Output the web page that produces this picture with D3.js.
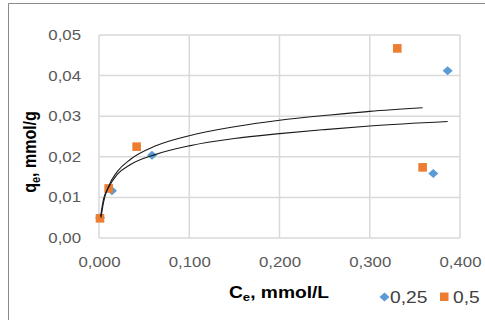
<!DOCTYPE html>
<html>
<head>
<meta charset="utf-8">
<script src="https://cdn.jsdelivr.net/npm/d3@7"></script>
<style>
  html, body { margin: 0; padding: 0; background: #fff; }
  svg { display: block; }
  text { font-family: "Liberation Sans", Arial, sans-serif; }
</style>
</head>
<body>
<svg id="chart" width="485" height="320"></svg>
<script>
// ---- data ----
const seriesNames = ["0,25", "0,5"];
// series 0,25 (blue diamonds)
const blueX = [0.0012, 0.0144, 0.0587, 0.3704, 0.3863];
const blueY = [0.0050, 0.01165, 0.0204, 0.0159, 0.0412];
// series 0,5 (orange squares)
const orangeX = [0.0011, 0.0107, 0.0417, 0.3305, 0.3586];
const orangeY = [0.00485, 0.0122, 0.0225, 0.0467, 0.0174];
// trend line for 0,25
const blueTrendX = [0.0018, 0.005, 0.010, 0.020, 0.035, 0.063, 0.100, 0.150, 0.200, 0.250, 0.300, 0.3863];
const blueTrendY = [0.0053, 0.0096, 0.0122, 0.0156, 0.0181, 0.0206, 0.0227, 0.0245, 0.0257, 0.0267, 0.0276, 0.0287];
// trend line for 0,5
const orangeTrendX = [0.0022, 0.005, 0.010, 0.020, 0.035, 0.063, 0.100, 0.150, 0.200, 0.256, 0.300, 0.3586];
const orangeTrendY = [0.0050, 0.0088, 0.0124, 0.0163, 0.0194, 0.0227, 0.0252, 0.0274, 0.0290, 0.0303, 0.0312, 0.0321];
// ticks
const xTicks = [0, 0.1, 0.2, 0.3, 0.4];
const yTicks = [0, 0.01, 0.02, 0.03, 0.04, 0.05];

const colors = { blue: "#5B9BD5", orange: "#ED7D31" };

// ---- drawing ----
const svg = d3.select("#chart");
const locale = d3.formatLocale({ decimal: ",", thousands: ".", grouping: [3], currency: ["", ""] });
const fx = locale.format(".3f"), fy = locale.format(".2f");
const SX = 1.2; // horizontal stretch of the reference text

const x = d3.scaleLinear().domain([0, 0.4]).range([99, 460]);
const y = d3.scaleLinear().domain([0, 0.05]).range([238, 35]);

function stretch(sel) {
  sel.each(function () {
    const t = d3.select(this);
    const tx = +t.attr("x") || 0;
    const ty = +t.attr("y") || 0;
    t.attr("transform", `translate(${tx},${ty}) scale(${SX},1) translate(${-tx},${-ty})`);
  });
}

// outer frame
svg.append("path").attr("d", "M8.5,320 L8.5,3.5 L485,3.5")
  .attr("fill", "none").attr("stroke", "#8a8a8a").attr("stroke-width", 1);

// gridlines
svg.append("g").selectAll("line").data(yTicks).join("line")
  .attr("x1", x(0)).attr("x2", x(0.4))
  .attr("y1", d => y(d)).attr("y2", d => y(d))
  .attr("stroke", "#d9d9d9").attr("stroke-width", 1.5);
svg.append("g").selectAll("line").data(xTicks).join("line")
  .attr("y1", y(0)).attr("y2", y(0.05))
  .attr("x1", d => x(d)).attr("x2", d => x(d))
  .attr("stroke", "#d9d9d9").attr("stroke-width", 1.5);

// axes (labels only)
const gy = svg.append("g").attr("transform", `translate(${x(0)},0)`)
  .call(d3.axisLeft(y).tickValues(yTicks).tickFormat(fy).tickSize(0).tickPadding(18));
const gx = svg.append("g").attr("transform", `translate(0,${y(0)})`)
  .call(d3.axisBottom(x).tickValues(xTicks).tickFormat(fx).tickSize(0).tickPadding(19));
[gx, gy].forEach(g => {
  g.select(".domain").remove();
  g.selectAll("text").attr("fill", "#595959")
    .style("font-family", "'Liberation Sans', Arial, sans-serif").style("font-size", "14px");
  stretch(g.selectAll("text"));
});

// markers
const blue = blueX.map((v, i) => [v, blueY[i]]);
const orange = orangeX.map((v, i) => [v, orangeY[i]]);
svg.append("g").selectAll("path").data(blue).join("path")
  .attr("d", d3.symbol(d3.symbolSquare, 50))
  .attr("transform", d => `translate(${x(d[0])},${y(d[1])}) scale(1,0.9) rotate(45)`)
  .attr("fill", colors.blue);
svg.append("g").selectAll("rect").data(orange).join("rect")
  .attr("x", d => x(d[0]) - 4.3).attr("y", d => y(d[1]) - 4.3)
  .attr("width", 8.6).attr("height", 8.6)
  .attr("fill", colors.orange);

// trend lines
const line = d3.line().x(d => x(d[0])).y(d => y(d[1])).curve(d3.curveMonotoneX);
[[blueTrendX, blueTrendY], [orangeTrendX, orangeTrendY]].forEach(([xs, ys]) => {
  svg.append("path").datum(xs.map((v, i) => [v, ys[i]]))
    .attr("d", line).attr("fill", "none")
    .attr("stroke", "#1a1a1a").attr("stroke-width", 1.1);
});

// axis titles
const xt = svg.append("text").attr("x", 279).attr("y", 298)
  .attr("text-anchor", "middle").attr("font-weight", "bold").attr("font-size", 16).attr("fill", "#000");
xt.append("tspan").text("C");
xt.append("tspan").attr("font-size", 11).attr("dy", 3).text("e");
xt.append("tspan").attr("dy", -3).text(", mmol/L");
stretch(xt);

const yt = svg.append("text")
  .attr("transform", `translate(36,152) scale(${SX},1) rotate(-90)`)
  .attr("text-anchor", "middle").attr("font-weight", "bold").attr("font-size", 16).attr("fill", "#000");
yt.append("tspan").text("q");
yt.append("tspan").attr("font-size", 11).attr("dy", 3).text("e");
yt.append("tspan").attr("dy", -3).text(", mmol/g");

// legend
const lg = svg.append("g");
lg.append("path").attr("d", d3.symbol(d3.symbolSquare, 50))
  .attr("transform", "translate(384.5,297) scale(1,0.9) rotate(45)").attr("fill", colors.blue);
const l1 = lg.append("text").attr("x", 390).attr("y", 303).attr("font-size", 16).attr("fill", "#404040").text(seriesNames[0]);
lg.append("rect").attr("x", 440).attr("y", 292.5).attr("width", 8.5).attr("height", 8.5).attr("fill", colors.orange);
const l2 = lg.append("text").attr("x", 453).attr("y", 303).attr("font-size", 16).attr("fill", "#404040").text(seriesNames[1]);
stretch(l1); stretch(l2);
</script>
</body>
</html>
